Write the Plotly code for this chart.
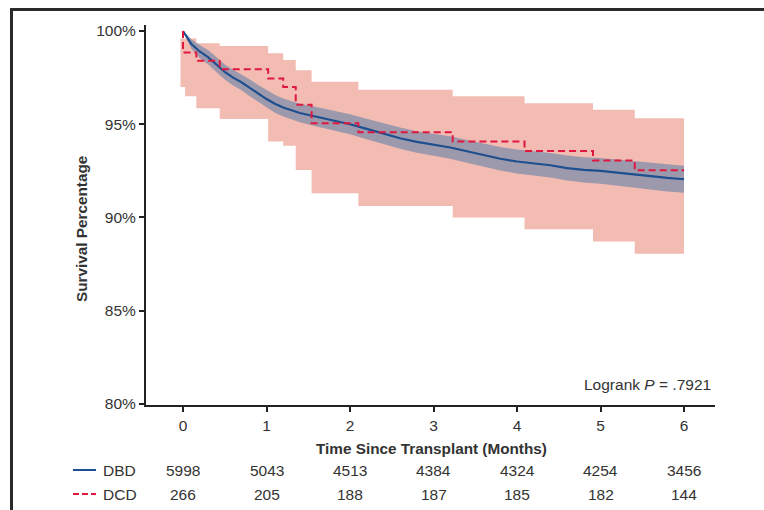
import plotly.graph_objects as go

# ---- data ----
dbd_t = [0, 0.1, 0.2, 0.3, 0.4, 0.5, 0.6, 0.7, 0.8, 0.9, 1.0, 1.1, 1.2, 1.4, 1.6, 1.8, 2.0,
         2.2, 2.4, 2.6, 2.8, 3.0, 3.2, 3.4, 3.6, 3.8, 4.0, 4.2, 4.4, 4.6, 4.8, 5.0, 5.2,
         5.4, 5.6, 5.8, 6.0]
dbd_s = [100, 99.3, 98.9, 98.6, 98.2, 97.8, 97.5, 97.25, 96.95, 96.65, 96.35, 96.1, 95.9,
         95.6, 95.4, 95.2, 95.0, 94.75, 94.5, 94.25, 94.05, 93.9, 93.75, 93.55, 93.35,
         93.15, 93.0, 92.9, 92.8, 92.65, 92.55, 92.5, 92.4, 92.3, 92.2, 92.12, 92.05]
dbd_hi = [100, 99.55, 99.25, 98.98, 98.6, 98.2, 97.92, 97.68, 97.4, 97.1, 96.82, 96.58,
          96.38, 96.1, 95.92, 95.73, 95.54, 95.3, 95.06, 94.82, 94.63, 94.49, 94.35, 94.16,
          93.97, 93.78, 93.64, 93.55, 93.46, 93.32, 93.23, 93.19, 93.1, 93.01, 92.92,
          92.85, 92.78]
dbd_lo = [100, 99.05, 98.55, 98.22, 97.8, 97.4, 97.08, 96.82, 96.5, 96.2, 95.88, 95.62,
          95.42, 95.1, 94.88, 94.67, 94.46, 94.2, 93.94, 93.68, 93.47, 93.31, 93.15, 92.94,
          92.73, 92.52, 92.36, 92.25, 92.14, 91.98, 91.87, 91.81, 91.7, 91.59, 91.48,
          91.39, 91.32]

dcd_t = [0, 0, 0.16, 0.44, 1.02, 1.20, 1.35, 1.54, 2.10, 3.23, 4.09, 4.91, 5.41, 6.0]
dcd_s = [100, 98.85, 98.4, 97.95, 97.45, 97.0, 96.05, 95.05, 94.57, 94.07, 93.57, 93.05,
         92.53, 92.53]

dcd_ci_t = [-0.03, 0.025, 0.16, 0.44, 1.02, 1.20, 1.35, 1.54, 2.10, 3.23, 4.09, 4.91, 5.41, 6.0]
dcd_ci_hi = [99.6, 99.6, 99.34, 99.2, 98.8, 98.45, 97.9, 97.28, 96.85, 96.5, 96.13, 95.77,
             95.32, 95.32]
dcd_ci_lo = [97.0, 96.5, 95.85, 95.28, 94.07, 93.84, 92.55, 91.3, 90.62, 90.0, 89.37, 88.71,
             88.05, 88.05]

month_ticks = [0, 1, 2, 3, 4, 5, 6]
y_ticks = [80, 85, 90, 95, 100]
y_tick_text = ["80%", "85%", "90%", "95%", "100%"]
risk_dbd = [5998, 5043, 4513, 4384, 4324, 4254, 3456]
risk_dcd = [266, 205, 188, 187, 185, 182, 144]

# ---- styling ----
FONT = "Arial, Liberation Sans, Helvetica, sans-serif"
TXT = "#333333"
FS = 15.5
PINK = "#f2bcb2"
GREY = "#9d99ac"
BLUE = "#1d4f8f"
RED = "#e0173f"

fig = go.Figure()

# DCD confidence band (pink)
fig.add_trace(go.Scatter(x=dcd_ci_t, y=dcd_ci_lo, mode="lines", line=dict(width=0, shape="hv"),
                         hoverinfo="skip", showlegend=False))
fig.add_trace(go.Scatter(x=dcd_ci_t, y=dcd_ci_hi, mode="lines", line=dict(width=0, shape="hv"),
                         fill="tonexty", fillcolor=PINK, hoverinfo="skip", showlegend=False))
# DBD confidence band (grey)
fig.add_trace(go.Scatter(x=dbd_t, y=dbd_lo, mode="lines", line=dict(width=0),
                         hoverinfo="skip", showlegend=False))
fig.add_trace(go.Scatter(x=dbd_t, y=dbd_hi, mode="lines", line=dict(width=0),
                         fill="tonexty", fillcolor=GREY, hoverinfo="skip", showlegend=False))
# DBD curve
fig.add_trace(go.Scatter(x=dbd_t, y=dbd_s, mode="lines", line=dict(color=BLUE, width=2.2),
                         name="DBD", showlegend=False))
# DCD curve
fig.add_trace(go.Scatter(x=dcd_t, y=dcd_s, mode="lines",
                         line=dict(color=RED, width=2, dash="7px,4px", shape="hv"),
                         name="DCD", showlegend=False))

L, R, T, B = 146, 49, 25, 105
W, H = 764, 510
PW, PH = W - L - R, H - T - B


def px_x(px):
    return (px - L) / PW


def px_y(py):
    return (H - B - py) / PH


def font(size=FS):
    return dict(family=FONT, size=size, color=TXT)


annotations = []
# at-risk table
for t, a, b in zip(month_ticks, risk_dbd, risk_dcd):
    annotations.append(dict(x=t, y=px_y(470), xref="x", yref="paper", text=str(a),
                            xanchor="center", yanchor="middle", showarrow=False, font=font()))
    annotations.append(dict(x=t, y=px_y(494), xref="x", yref="paper", text=str(b),
                            xanchor="center", yanchor="middle", showarrow=False, font=font()))
annotations.append(dict(x=px_x(101), y=px_y(470), xref="paper", yref="paper", text="DBD",
                        xanchor="left", yanchor="middle", showarrow=False, font=font()))
annotations.append(dict(x=px_x(101), y=px_y(494), xref="paper", yref="paper", text="DCD",
                        xanchor="left", yanchor="middle", showarrow=False, font=font()))
# axis titles
annotations.append(dict(x=px_x(431), y=px_y(449), xref="paper", yref="paper",
                        text="<b>Time Since Transplant (Months)</b>", showarrow=False,
                        xanchor="center", yanchor="middle", font=font(15.3)))
annotations.append(dict(x=px_x(81), y=px_y(229), xref="paper", yref="paper",
                        text="<b>Survival Percentage</b>", textangle=-90, showarrow=False,
                        xanchor="center", yanchor="middle", font=font(15.3)))
# logrank
annotations.append(dict(x=px_x(713), y=px_y(384), xref="paper", yref="paper",
                        text="Logrank <i>P</i> = .7921", xanchor="right", yanchor="middle",
                        showarrow=False, font=font()))

shapes = [
    # outer frame (left and top)
    dict(type="path", xref="paper", yref="paper",
         path=f"M {px_x(11.5)} {px_y(520)} L {px_x(11.5)} {px_y(9.5)} L {px_x(780)} {px_y(9.5)}",
         line=dict(color="#2a2a2a", width=3)),
    # legend keys in at-risk table
    dict(type="line", xref="paper", yref="paper", x0=px_x(73), x1=px_x(96),
         y0=px_y(470), y1=px_y(470), line=dict(color=BLUE, width=2)),
    dict(type="line", xref="paper", yref="paper", x0=px_x(73), x1=px_x(96),
         y0=px_y(494), y1=px_y(494), line=dict(color=RED, width=2, dash="6px,3px")),
]

fig.update_layout(
    width=W, height=H, autosize=False,
    margin=dict(l=L, r=R, t=T, b=B, pad=0),
    paper_bgcolor="white", plot_bgcolor="white",
    showlegend=False,
    annotations=annotations, shapes=shapes,
    xaxis=dict(range=[-0.443, 6.371], tickvals=month_ticks, ticks="outside", ticklen=5,
               tickwidth=1.5, tickcolor="#222", showline=True, linewidth=2, linecolor="#222",
               showgrid=False, zeroline=False, tickfont=font()),
    yaxis=dict(range=[79.946, 100.32], tickvals=y_ticks, ticktext=y_tick_text,
               ticks="outside", ticklen=5, tickwidth=1.5, tickcolor="#222", showline=True,
               linewidth=2, linecolor="#222", showgrid=False, zeroline=False,
               tickfont=font()),
)

fig.write_html("out.html")
